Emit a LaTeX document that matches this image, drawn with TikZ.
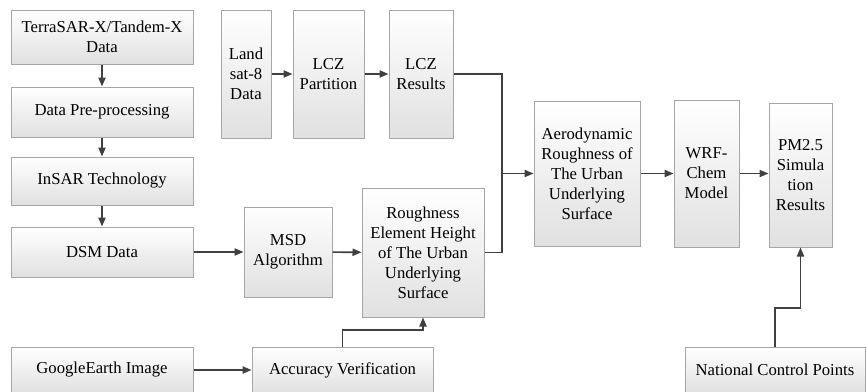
\documentclass[tikz,border=0pt]{standalone}
\usepackage{fontspec}
\setmainfont{Liberation Serif}
\usetikzlibrary{arrows.meta,shadows}

\begin{document}
\begin{tikzpicture}[x=0.5pt,y=-0.5pt,font=\fontsize{8.35}{10}\selectfont,
		box/.style={draw=black!35,line width=0.5pt,top color=white,bottom color=black!12,align=center,inner sep=0pt,
			drop shadow={shadow xshift=0.7pt,shadow yshift=-0.7pt,fill=black,opacity=0.15}},
		ln/.style={draw=black!75,line width=0.8pt},
		arr/.style={ln,-{Triangle[length=4.5pt,width=3.6pt]}}]
		\useasboundingbox (0,0) rectangle (867,391);
		% left column
		\node[box,minimum width=91pt,minimum height=27pt] (tsx) at (102,37) {TerraSAR-X/Tandem-X\\Data};
		\node[box,minimum width=91pt,minimum height=25pt] (pre) at (102,112) {Data Pre-processing};
		\node[box,minimum width=91pt,minimum height=24pt] (insar) at (102,181) {InSAR Technology};
		\node[box,minimum width=91pt,minimum height=25pt] (dsm) at (102,252) {DSM Data};
		\node[box,minimum width=91pt,minimum height=23pt] (ge) at (102,370) {GoogleEarth Image};
		% top row
		\node[box,minimum width=25pt,minimum height=64pt] (landsat) at (246,74) {Land\\sat-8\\Data};
		\node[box,minimum width=35.5pt,minimum height=64pt] (lczp) at (328.5,74) {LCZ\\Partition};
		\node[box,minimum width=32pt,minimum height=64pt] (lczr) at (421,74) {LCZ\\Results};
		% middle
		\node[box,minimum width=44pt,minimum height=45pt] (msd) at (288,252) {MSD\\Algorithm};
		\node[box,minimum width=61pt,minimum height=64.5pt] (reh) at (423,252.5) {Roughness\\Element Height\\of The Urban\\Underlying\\Surface};
		\node[box,minimum width=90.5pt,minimum height=23pt] (acc) at (342.5,370) {Accuracy Verification};
		% right part
		\node[box,minimum width=53pt,minimum height=72.5pt] (aero) at (587,173.5) {Aerodynamic\\Roughness of\\The Urban\\Underlying\\Surface};
		\node[box,minimum width=32.5pt,minimum height=73.5pt] (wrf) at (706.5,173.5) {WRF-\\Chem\\Model};
		\node[box,minimum width=31.5pt,minimum height=72pt] (pm) at (800.5,175) {PM2.5\\Simula\\tion\\Results};
		\node[box,minimum width=90pt,minimum height=23pt] (ncp) at (775,370) {National Control Points};
		% connectors
		\coordinate (join) at (502,173.5);
		\coordinate (accup) at (342.5,330);
		\coordinate (ncpup) at (775,308);
		\draw[arr] (tsx) -- (pre);
		\draw[arr] (pre) -- (insar);
		\draw[arr] (insar) -- (dsm);
		\draw[arr] (dsm) -- (msd);
		\draw[arr] (msd) -- (reh);
		\draw[arr] (ge) -- (acc);
		\draw[arr] (acc.north) -- (accup) -| (reh.south);
		\draw[arr] (landsat) -- (lczp);
		\draw[arr] (lczp) -- (lczr);
		\draw[ln] (lczr.east) -| (join);
		\draw[ln] (reh.east) -| (join);
		\draw[arr] (join) -- (aero.west);
		\draw[arr] (aero) -- (wrf);
		\draw[arr] (wrf.east) -- (wrf.east -| pm.west);
		\draw[arr] (ncp.north) -- (ncpup) -| (pm.south);
	\end{tikzpicture}
\end{document}
